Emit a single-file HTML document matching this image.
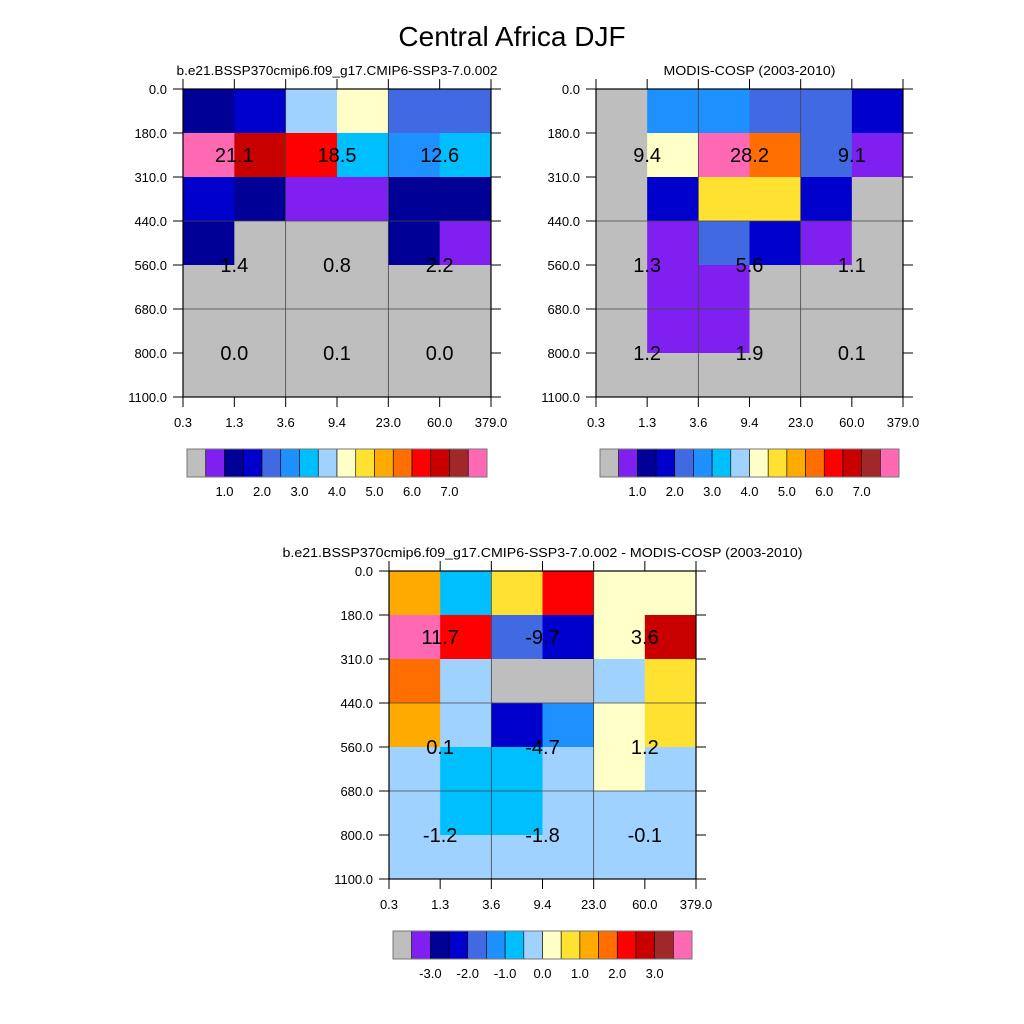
<!DOCTYPE html>
<html><head><meta charset="utf-8"><style>
body{margin:0;background:#fff}
svg{display:block;font-family:"Liberation Sans",sans-serif}
</style></head><body>
<svg id="fig" width="1024" height="1024" viewBox="0 0 1024 1024" xmlns="http://www.w3.org/2000/svg">
<rect width="1024" height="1024" fill="#fff"/>
<text x="512" y="46" text-anchor="middle" font-size="28">Central Africa DJF</text>
</svg>
<script>
const palette = ["#BEBEBE","#8020F0","#000096","#0000CD","#4169E1","#1E90FF","#00BFFF","#A0D2FF","#FFFFC8","#FFE132","#FFAA00","#FF6E00","#FF0000","#C80000","#A02828","#FF69B4"];
const xTickLabels = ["0.3","1.3","3.6","9.4","23.0","60.0","379.0"];
const yTickLabels = ["0.0","180.0","310.0","440.0","560.0","680.0","800.0","1100.0"];
const cellsModel = [
 [2,3,7,8,4,4],
 [15,13,12,6,5,6],
 [3,2,1,1,2,2],
 [2,0,0,0,2,1],
 [0,0,0,0,0,0],
 [0,0,0,0,0,0],
 [0,0,0,0,0,0]];
const cellsObs = [
 [0,5,5,4,4,3],
 [0,8,15,11,4,1],
 [0,3,9,9,3,0],
 [0,1,4,3,1,0],
 [0,1,1,0,0,0],
 [0,1,1,0,0,0],
 [0,0,0,0,0,0]];
const cellsDiff = [
 [10,6,9,12,8,8],
 [15,12,4,3,8,13],
 [11,7,0,0,7,9],
 [10,7,3,5,8,9],
 [7,6,6,7,8,7],
 [7,6,6,7,7,7],
 [7,7,7,7,7,7]];
const labelsModel = ["21.1","18.5","12.6","1.4","0.8","2.2","0.0","0.1","0.0"];
const labelsObs = ["9.4","28.2","9.1","1.3","5.6","1.1","1.2","1.9","0.1"];
const labelsDiff = ["11.7","-9.7","3.6","0.1","-4.7","1.2","-1.2","-1.8","-0.1"];
const labelCols = [1,3,5];
const labelRows = [1.5,4,6];
const cbLabelsAbs = ["1.0","2.0","3.0","4.0","5.0","6.0","7.0"];
const cbLabelsDiff = ["-3.0","-2.0","-1.0","0.0","1.0","2.0","3.0"];

const svg = document.getElementById('fig');
const NS = "http://www.w3.org/2000/svg";
function mk(tag, attrs, parent){const e=document.createElementNS(NS,tag);for(const k in attrs)e.setAttribute(k,attrs[k]);(parent||svg).appendChild(e);return e;}

function panel(x0,y0,w,h,cells,labels,title,titleLen,name,cbY,cbLabels){
  const g=mk('g',{});
  
  
  const nx=xTickLabels.length-1, ny=yTickLabels.length-1;
  const xs=i=>x0+i*w/nx, ys=j=>y0+j*h/ny;
  cells.forEach((row,j)=>row.forEach((c,i)=>{
    const r=mk('rect',{x:xs(i),y:ys(j),width:w/nx+0.5,height:h/ny+0.5,fill:palette[c]},g);
    
    
  }));
  [2,4].forEach(i=>mk('line',{x1:xs(i),x2:xs(i),y1:y0,y2:y0+h,stroke:'#444','stroke-width':0.8},g));
  [3,5].forEach(j=>mk('line',{x1:x0,x2:x0+w,y1:ys(j),y2:ys(j),stroke:'#444','stroke-width':0.8},g));
  mk('rect',{x:x0,y:y0,width:w,height:h,fill:'none',stroke:'#000','stroke-width':1.2},g);
  xTickLabels.forEach((t,i)=>{
    mk('line',{x1:xs(i),x2:xs(i),y1:y0+h,y2:y0+h+10,stroke:'#000'},g);
    mk('line',{x1:xs(i),x2:xs(i),y1:y0-10,y2:y0,stroke:'#000'},g);
    const tx=mk('text',{x:xs(i),y:y0+h+30,'text-anchor':'middle','font-size':13},g);tx.textContent=t;
    
    
  });
  yTickLabels.forEach((t,j)=>{
    mk('line',{x1:x0-10,x2:x0,y1:ys(j),y2:ys(j),stroke:'#000'},g);
    mk('line',{x1:x0+w,x2:x0+w+10,y1:ys(j),y2:ys(j),stroke:'#000'},g);
    const tx=mk('text',{x:x0-16,y:ys(j)+5,'text-anchor':'end','font-size':13},g);tx.textContent=t;
    
    
  });
  let k=0;
  labelRows.forEach(r=>labelCols.forEach(c=>{
    const tx=mk('text',{x:xs(c),y:ys(r)+7,'text-anchor':'middle','font-size':20},g);tx.textContent=labels[k++];
    
    
  }));
  const tt=mk('text',{x:x0+w/2,y:y0-14,'text-anchor':'middle','font-size':13,textLength:titleLen,lengthAdjust:'spacingAndGlyphs'},g);tt.textContent=title;
  
  
  const cbx=x0+4, cbw=w-8, bw=cbw/palette.length;
  const cb=mk('g',{},g);
  
  
  palette.forEach((c,i)=>mk('rect',{x:cbx+i*bw,y:cbY,width:bw,height:28,fill:c,stroke:'#000','stroke-width':0.6},cb));
  mk('rect',{x:cbx,y:cbY,width:cbw,height:28,fill:'none',stroke:'#777','stroke-width':1},cb);
  cbLabels.forEach((t,i)=>{
    const tx=mk('text',{x:cbx+(2+2*i)*bw,y:cbY+47,'text-anchor':'middle','font-size':13},cb);tx.textContent=t;
    
    
  });
}
panel(183,89,308,308,cellsModel,labelsModel,"b.e21.BSSP370cmip6.f09_g17.CMIP6-SSP3-7.0.002",321,"panel-model",449,cbLabelsAbs);
panel(596,89,307,308,cellsObs,labelsObs,"MODIS-COSP (2003-2010)",172,"panel-obs",449,cbLabelsAbs);
panel(389,571,307,308,cellsDiff,labelsDiff,"b.e21.BSSP370cmip6.f09_g17.CMIP6-SSP3-7.0.002 - MODIS-COSP (2003-2010)",520,"panel-diff",931,cbLabelsDiff);
</script>
</body></html>
